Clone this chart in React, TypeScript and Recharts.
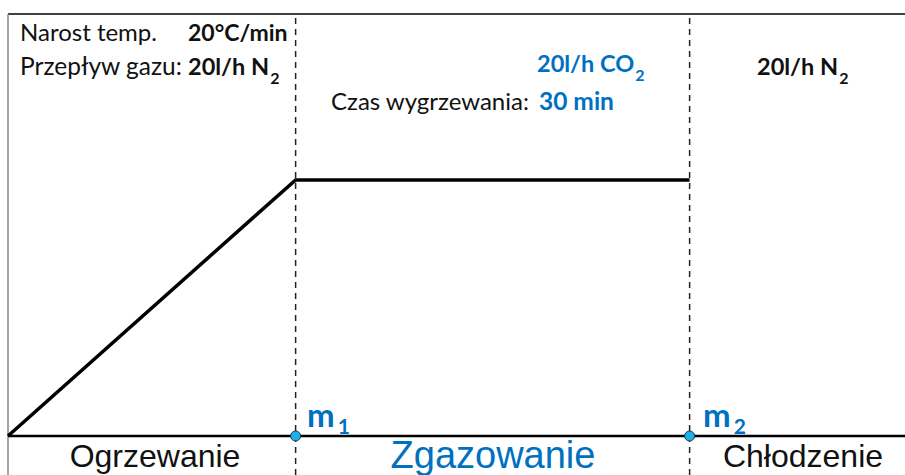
import React from "react"
import { ComposedChart, Line, XAxis, YAxis, ReferenceLine, ReferenceDot, Customized } from "recharts"

// process profile: time (arbitrary minutes) vs temperature
const times = [0, 21.9, 51.9]
const temps = [0, 440, 440]
const xMax = 68.3
const yMax = 725
const yBelow = -67

const stageBounds = [21.9, 51.9]
const markerNames = ["m", "m"]
const markerSubs = ["1", "2"]

const stageNames = ["Ogrzewanie", "Zgazowanie", "Chłodzenie"]

const data = times.map((t, i) => ({ t, temp: temps[i] }))

const BLUE = "#0070C0"
const CAL = "Lato, 'Open Sans', sans-serif"
const ARIAL = "'Liberation Sans', Arial, sans-serif"

function Annotations() {
  return (
    <g>
      <text x={20} y={41} fontFamily={CAL} fontSize={24} fill="#111">Narost temp.</text>
      <text x={188} y={41} fontFamily={CAL} fontSize={23} fontWeight="bold" fill="#111">20°C/min</text>
      <text x={20} y={75} fontFamily={CAL} fontSize={24.5} fill="#111">Przepływ gazu:</text>
      <text x={188} y={75} fontFamily={CAL} fontSize={23.5} fontWeight="bold" fill="#111">
        20l/h N<tspan dx={1} dy={9} fontSize={16}>2</tspan>
      </text>

      <text x={537} y={72} fontFamily={CAL} fontSize={23.5} fontWeight="bold" fill={BLUE}>
        20l/h CO<tspan dx={1} dy={9} fontSize={16}>2</tspan>
      </text>
      <text x={331} y={110} fontFamily={CAL} fontSize={24} fill="#111">Czas wygrzewania:</text>
      <text x={539} y={110} fontFamily={CAL} fontSize={24.5} fontWeight="bold" fill={BLUE}>30 min</text>

      <text x={757} y={75} fontFamily={CAL} fontSize={23.5} fontWeight="bold" fill="#111">
        20l/h N<tspan dx={1} dy={9} fontSize={16}>2</tspan>
      </text>

      <text x={307} y={427} fontFamily={CAL} fontSize={33} fontWeight="bold" fill={BLUE}>
        {markerNames[0]}<tspan dx={3} dy={7} fontSize={21}>{markerSubs[0]}</tspan>
      </text>
      <text x={703} y={427} fontFamily={CAL} fontSize={33} fontWeight="bold" fill={BLUE}>
        {markerNames[1]}<tspan dx={3} dy={7} fontSize={21}>{markerSubs[1]}</tspan>
      </text>

      <text x={155} y={467} textAnchor="middle" fontFamily={ARIAL} fontSize={32} fill="#111">{stageNames[0]}</text>
      <text x={493} y={468} textAnchor="middle" fontFamily={ARIAL} fontSize={38} fill={BLUE}>{stageNames[1]}</text>
      <text x={803} y={467} textAnchor="middle" fontFamily={ARIAL} fontSize={32} fill="#111">{stageNames[2]}</text>
    </g>
  )
}

export default function App() {
  return (
    <div style={{ position: "absolute", left: 0, top: 0, background: "#fff" }}>
      <ComposedChart width={905} height={475} data={data} margin={{ top: 14, right: 0, bottom: 39, left: 8 }}>
        <XAxis type="number" dataKey="t" domain={[0, xMax]} hide />
        <YAxis type="number" domain={[0, yMax]} hide />
        <ReferenceLine y={yMax} stroke="#000" strokeWidth={1.5} />
        <ReferenceLine
          segment={[{ x: 0, y: yBelow }, { x: 0, y: yMax }]}
          stroke="#888"
          strokeWidth={1.5}
          ifOverflow="visible"
        />
        {stageBounds.map((b) => (
          <ReferenceLine
            key={b}
            segment={[{ x: b, y: yBelow }, { x: b, y: yMax }]}
            stroke="#222"
            strokeWidth={1.5}
            strokeDasharray="6 5"
            ifOverflow="visible"
          />
        ))}
        <ReferenceLine y={0} stroke="#000" strokeWidth={2.5} />
        <Line
          type="linear"
          dataKey="temp"
          stroke="#000"
          strokeWidth={3.5}
          dot={false}
          isAnimationActive={false}
        />
        {stageBounds.map((b) => (
          <ReferenceDot key={"d" + b} x={b} y={0} r={5} fill="#1CB0E8" stroke="#1d3550" strokeWidth={1} ifOverflow="visible" />
        ))}
        <Customized component={Annotations} />
      </ComposedChart>
    </div>
  )
}
